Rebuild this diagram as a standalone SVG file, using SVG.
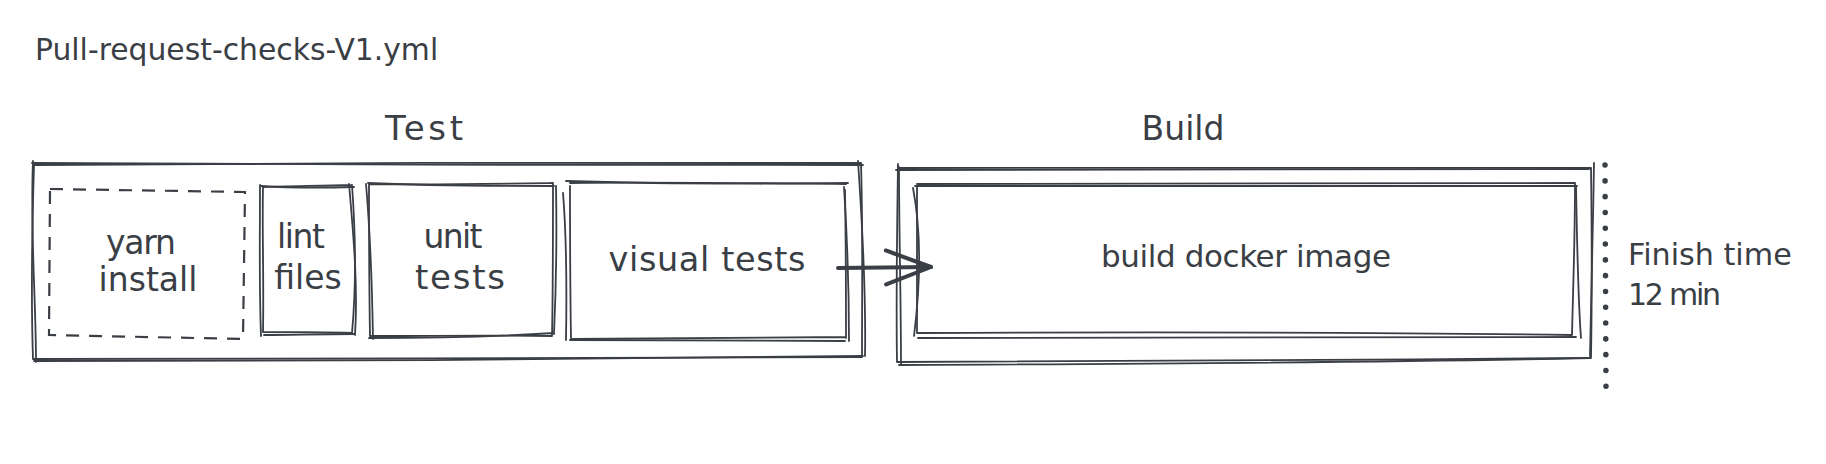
<svg xmlns="http://www.w3.org/2000/svg" width="1826" height="464" viewBox="0 0 1826 464">
  <style>
    .sk { fill: none; stroke: #3a3e45; stroke-width: 1.8; stroke-linecap: round; stroke-linejoin: round; }
    .dash { fill: none; stroke: #3a3e45; stroke-width: 2.2; stroke-dasharray: 13 10; stroke-linecap: butt; }
    .lbl { font-family: "DejaVu Sans", "Liberation Sans", sans-serif; fill: #3a3e45; }
    .mid { text-anchor: middle; }
    .arrow { fill: none; stroke: #3a3e45; stroke-width: 4; stroke-linecap: round; }
    .dots { fill: none; stroke: #3a3e45; stroke-width: 5.5; stroke-linecap: round; stroke-dasharray: 0.1 15.7; }
  </style>
  <defs>
    <marker id="head" markerUnits="userSpaceOnUse" markerWidth="60" markerHeight="50" refX="48" refY="20" orient="auto">
      <path d="M3 3 L48 20 L3 37" fill="none" stroke="#3a3e45" stroke-width="4" stroke-linecap="round" stroke-linejoin="round"/>
    </marker>
  </defs>

  <rect width="1826" height="464" fill="#ffffff"/>

  <g id="title">
    <text class="lbl" x="35" y="60" font-size="29.8">Pull-request-checks-V1.yml</text>
  </g>

  <g id="test-stage">
    <text class="lbl mid" x="424" y="140" font-size="34" textLength="78" lengthAdjust="spacing">Test</text>
    <path class="sk" d="M34 165 C300 163 600 162 861 163 M861 163 C863 230 862 300 862 357 M862 357 C600 358 300 359 33 359 M33 359 C31 300 32 230 34 165"/>
    <path class="sk" d="M32 163 C300 165 600 165 863 165 M858 161 C862 220 866 300 865 356 M863 356 C600 360 300 361 34 361 M36 362 C36 300 30 230 33 161"/>
  </g>

  <g id="yarn-install">
    <path class="dash" d="M50 189 L245 192 L243 339 L49 335 Z"/>
    <text class="lbl mid" x="141" y="254" font-size="33" textLength="70" lengthAdjust="spacing">yarn</text>
    <text class="lbl mid" x="148" y="291" font-size="33">install</text>
  </g>

  <g id="lint-files">
    <path class="sk" d="M263 187 C290 186 320 186 352 185 M352 185 C356 240 356 290 352 333 M352 333 C320 332 290 332 263 332 M263 332 C264 280 262 230 263 187"/>
    <path class="sk" d="M261 186 C290 188 320 188 354 187 M349 184 C354 240 358 290 355 335 M354 334 C320 334 290 335 264 335 M261 336 C259 280 260 230 260 185"/>
    <text class="lbl mid" x="301" y="248" font-size="33" textLength="48" lengthAdjust="spacing">lint</text>
    <text class="lbl mid" x="308" y="289" font-size="33">files</text>
  </g>

  <g id="unit-tests">
    <path class="sk" d="M369 184 C430 185 490 184 553 183 M553 183 C553 240 553 290 552 336 M552 336 C490 335 430 336 370 336 M370 336 C369 280 369 230 369 184"/>
    <path class="sk" d="M368 183 C430 186 490 186 554 186 M556 186 C557 240 556 290 554 334 M554 333 C490 337 430 338 369 338 M373 339 C372 280 370 230 366 184"/>
    <text class="lbl mid" x="453" y="248" font-size="33" textLength="59" lengthAdjust="spacing">unit</text>
    <text class="lbl mid" x="460" y="289" font-size="34" textLength="90" lengthAdjust="spacing">tests</text>
  </g>

  <g id="visual-tests">
    <path class="sk" d="M570 183 C660 182 750 183 846 184 M845 190 C846 250 846 300 846 338 M846 337 C750 338 660 338 572 339 M571 339 C570 280 570 230 570 186"/>
    <path class="sk" d="M566 181 C660 184 750 184 848 183 M844 187 C848 250 849 300 849 341 M845 341 C750 341 660 341 570 340 M566 340 C567 280 566 230 563 193"/>
    <text class="lbl mid" x="707" y="271" font-size="33.5" textLength="197" lengthAdjust="spacing">visual tests</text>
  </g>

  <g id="build-stage">
    <text class="lbl mid" x="1183" y="140" font-size="33">Build</text>
    <path class="sk" d="M898 168 C1130 167 1360 168 1591 168 M1591 168 C1592 240 1592 300 1591 358 M1591 358 C1360 360 1130 361 897 362 M897 362 C896 300 897 230 898 164"/>
    <path class="sk" d="M896 170 C1130 170 1360 170 1589 169 M1594 163 C1593 230 1591 300 1590 356 M1589 358 C1360 363 1130 364 899 365 M901 365 C901 300 899 230 899 167"/>
  </g>

  <g id="build-docker-image">
    <path class="sk" d="M917 184 C1140 184 1360 184 1575 183 M1575 183 C1575 240 1573 290 1572 335 M1572 335 C1360 332 1140 332 917 333 M917 333 C917 280 917 230 917 186"/>
    <path class="sk" d="M915 186 C1140 187 1360 186 1577 186 M1576 186 C1577 240 1578 300 1581 338 M1576 337 C1360 337 1140 338 918 338 M914 336 C921 280 921 230 913 188"/>
    <text class="lbl mid" x="1246" y="267" font-size="31" textLength="290" lengthAdjust="spacing">build docker image</text>
  </g>

  <g id="finish-time">
    <path class="dots" d="M1605 165 L1606 389"/>
    <text class="lbl" x="1628" y="265" font-size="30.2">Finish time</text>
    <text class="lbl" x="1628" y="305" font-size="30" textLength="93" lengthAdjust="spacing">12 min</text>
  </g>

  <g id="connectors">
    <path class="arrow" d="M838 268 L931 267" marker-end="url(#head)"/>
  </g>
</svg>
